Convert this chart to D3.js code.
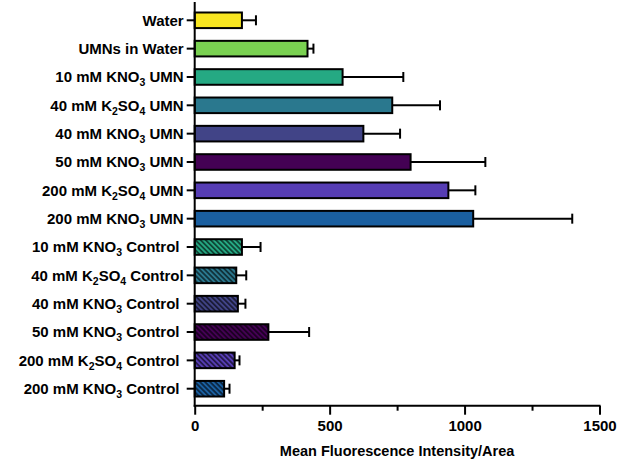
<!DOCTYPE html>
<html>
<head>
<meta charset="utf-8">
<script src="https://cdn.jsdelivr.net/npm/d3@7"></script>
<style>
  html, body { margin: 0; padding: 0; background: #fff; }
  svg { display: block; font-family: "Liberation Sans", Arial, sans-serif; font-weight: bold; }
</style>
</head>
<body>
<svg id="chart" width="630" height="462"></svg>
<script>
// Group labels ("_n" marks a subscript digit)
const categories = [
  "Water",
  "UMNs in Water",
  "10 mM KNO_3 UMN",
  "40 mM K_2SO_4 UMN",
  "40 mM KNO_3 UMN",
  "50 mM KNO_3 UMN",
  "200 mM K_2SO_4 UMN",
  "200 mM KNO_3 UMN",
  "10 mM KNO_3 Control ",
  "40 mM K_2SO_4 Control",
  "40 mM KNO_3 Control ",
  "50 mM KNO_3 Control ",
  "200 mM K_2SO_4 Control ",
  "200 mM KNO_3 Control "
];
// Mean fluorescence intensity per area and its error (SD)
const means  = [175, 418, 548, 732, 625, 800, 940, 1032, 175, 154, 160, 273, 148, 109];
const errors = [52, 22, 225, 177, 136, 277, 100, 367, 69, 37, 28, 151, 18, 20];
// Fill colour per group, and whether the bar is hatched (controls)
const colors = ["#f8e621", "#7ad151", "#25a983", "#2a788e", "#414487", "#440154", "#563db4", "#1a5fa0",
                "#25a983", "#2a788e", "#414487", "#440154", "#563db4", "#1a5fa0"];
const hatched = [false, false, false, false, false, false, false, false,
                 true, true, true, true, true, true];
const majorTicks = [0, 500, 1000, 1500];
const minorTicks = [250, 750, 1250];
const xTitle = "Mean Fluorescence Intensity/Area";

const svg = d3.select("#chart");
const x0 = 194.7, x1 = 599.5, axisY = 405.7;

const x = d3.scaleLinear().domain([0, 1500]).range([x0, x1]);
const y = d3.scaleBand().domain(d3.range(categories.length))
  .range([4, 405]).paddingInner(0.45).paddingOuter(0.3);

// hatch patterns for the control bars
const defs = svg.append("defs");
const uniqueHatch = Array.from(new Set(colors.filter((c, i) => hatched[i])));
uniqueHatch.forEach((c, k) => {
  const p = defs.append("pattern")
    .attr("id", "hatch" + k)
    .attr("patternUnits", "userSpaceOnUse")
    .attr("width", 3.6).attr("height", 3.6)
    .attr("patternTransform", "rotate(-45)");
  p.append("rect").attr("width", 3.6).attr("height", 3.6).attr("fill", c);
  p.append("line").attr("x1", 0.9).attr("x2", 0.9).attr("y1", 0).attr("y2", 3.6)
    .attr("stroke", "#000").attr("stroke-opacity", 0.7).attr("stroke-width", 1.5);
});
const fillFor = i => hatched[i] ? `url(#hatch${uniqueHatch.indexOf(colors[i])})` : colors[i];

// error bars (drawn first so the bar outline sits on top)
const eb = svg.append("g").attr("stroke", "#000").attr("stroke-width", 2);
d3.range(categories.length).forEach(i => {
  const cy = y(i) + y.bandwidth() / 2;
  eb.append("line").attr("x1", x(means[i])).attr("x2", x(means[i] + errors[i]))
    .attr("y1", cy).attr("y2", cy);
  eb.append("line").attr("x1", x(means[i] + errors[i])).attr("x2", x(means[i] + errors[i]))
    .attr("y1", cy - 5).attr("y2", cy + 5);
});

// bars
svg.append("g").selectAll("rect")
  .data(d3.range(categories.length))
  .join("rect")
  .attr("x", x(0))
  .attr("y", i => y(i))
  .attr("width", i => x(means[i]) - x(0))
  .attr("height", y.bandwidth())
  .attr("fill", i => fillFor(i))
  .attr("stroke", "#000")
  .attr("stroke-width", 2);

// x axis: major ticks with labels, minor ticks without
const xAxis = svg.append("g").attr("transform", `translate(0,${axisY})`)
  .call(d3.axisBottom(x).tickValues(majorTicks).tickSize(9).tickSizeOuter(0)
    .tickPadding(6).tickFormat(d3.format("d")));
const minor = svg.append("g").attr("transform", `translate(0,${axisY})`)
  .call(d3.axisBottom(x).tickValues(minorTicks).tickSize(5).tickFormat(""));
minor.select(".domain").remove();
minor.selectAll("text").remove();
xAxis.select(".domain").attr("d", `M${x0 - 1},0H${x1 + 1}`);
svg.selectAll(".tick line").attr("stroke", "#000").attr("stroke-width", 2);
xAxis.selectAll("path").attr("stroke", "#000").attr("stroke-width", 2);
xAxis.selectAll("text")
  .attr("fill", "#000").attr("font-size", 15).attr("font-weight", "bold")
  .attr("font-family", "Liberation Sans, Arial, sans-serif");

// y axis with sub-scripted labels
const yAxis = svg.append("g").attr("transform", `translate(${x0},0)`)
  .call(d3.axisLeft(y).tickSize(8).tickSizeOuter(0).tickFormat(""));
yAxis.select(".domain").attr("d", `M0,2V${axisY + 1}`).attr("stroke", "#000").attr("stroke-width", 2);
yAxis.selectAll(".tick line").attr("stroke", "#000").attr("stroke-width", 2);

yAxis.selectAll(".tick").each(function(i) {
  const t = d3.select(this).select("text")
    .attr("x", -11).attr("dy", "0.36em")
    .attr("text-anchor", "end")
    .attr("fill", "#000").attr("font-size", 15).attr("font-weight", "bold")
    .attr("font-family", "Liberation Sans, Arial, sans-serif")
    .style("white-space", "pre");
  const parts = categories[i].split(/_(\d)/);
  let shift = 0;
  parts.forEach((p, k) => {
    if (p === "") return;
    const sub = k % 2 === 1;
    const target = sub ? 4 : 0;
    const ts = t.append("tspan").text(p);
    if (target !== shift) ts.attr("dy", target - shift);
    if (sub) ts.attr("font-size", 10.5);
    shift = target;
  });
});

// x axis title
svg.append("text")
  .attr("x", (x0 + x1) / 2).attr("y", 456)
  .attr("text-anchor", "middle")
  .attr("font-size", 14.5)
  .attr("fill", "#000")
  .text(xTitle);
</script>
</body>
</html>
